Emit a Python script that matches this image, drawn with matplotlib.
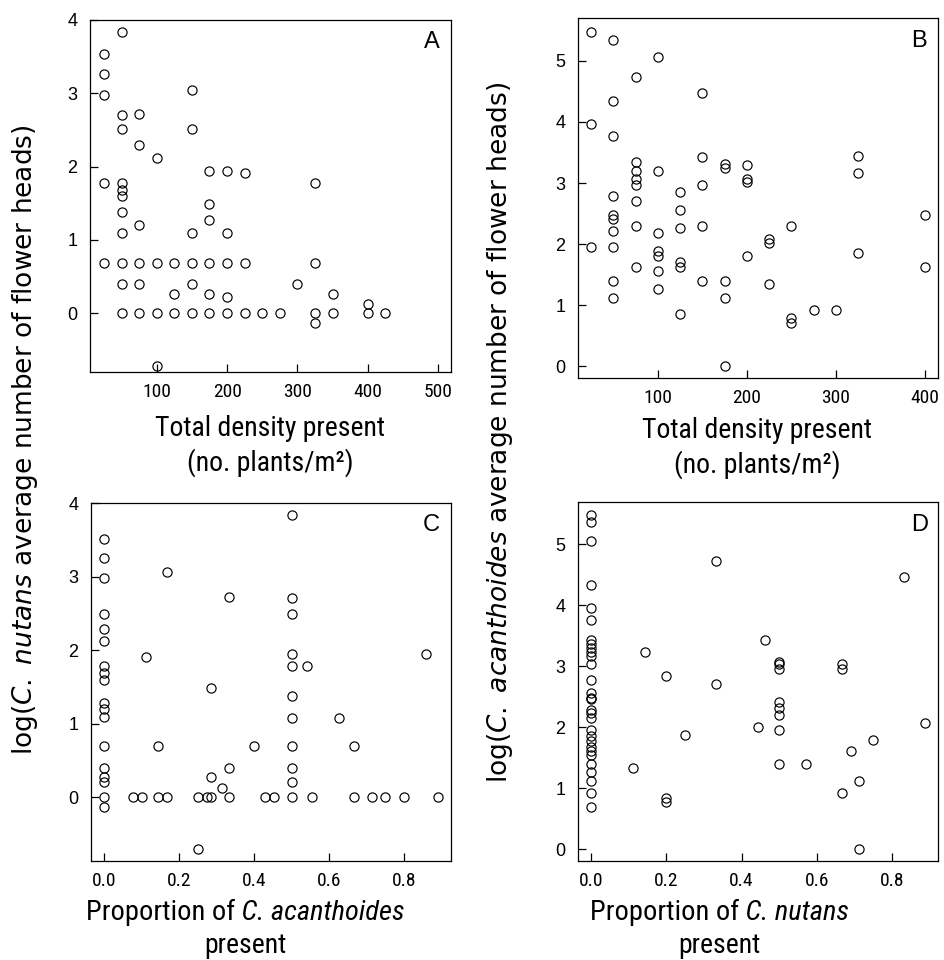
"""Four-panel scatter of thistle flower-head production.

  A, B  - log flower heads vs total density (C. nutans, C. acanthoides)
  C, D  - log flower heads vs proportion of the other species present
"""

import matplotlib

matplotlib.use("Agg")  # headless
import matplotlib.pyplot as plt  # noqa: E402
from matplotlib import font_manager as fm  # noqa: E402
from matplotlib.offsetbox import AnchoredOffsetbox, HPacker, TextArea  # noqa: E402

SANS = ["Liberation Sans", "DejaVu Sans"]
WIDE = ["DejaVu Sans"]

# the x axis text of the original is a condensed grotesque; take whatever narrow face exists
_names = {f.name for f in fm.fontManager.ttflist}
_narrow = [n for n in ("Liberation Sans Narrow", "Roboto Condensed", "DejaVu Sans Condensed",
                       "Open Sans Condensed") if n in _names]
if _narrow:
    NARROW = dict(family=[_narrow[0], "DejaVu Sans"])
else:
    NARROW = dict(family=["Roboto", "DejaVu Sans"], stretch="condensed")

plt.rcParams.update(
    {
        "font.family": SANS,
        "axes.linewidth": 0.9,
        "xtick.direction": "in",
        "ytick.direction": "in",
        "xtick.major.size": 6,
        "ytick.major.size": 6,
        "xtick.major.width": 0.9,
        "ytick.major.width": 0.9,
        "xtick.major.pad": 8,
        "ytick.major.pad": 9,
    }
)

# --- data -------------------------------------------------------------------

# A: C. nutans, total density (plants/m2) vs log(mean flower heads)
a_density = [
    25, 25, 25, 25, 25,
    50, 50, 50, 50, 50, 50, 50, 50, 50, 50, 50,
    75, 75, 75, 75, 75, 75,
    100, 100, 100, 100,
    125, 125, 125,
    150, 150, 150, 150, 150, 150,
    175, 175, 175, 175, 175, 175,
    200, 200, 200, 200, 200,
    225, 225, 225,
    250, 275, 300,
    325, 325, 325, 325,
    350, 350,
    400, 400,
    425,
]
a_heads = [
    3.53, 3.26, 2.98, 1.78, 0.69,
    3.84, 2.70, 2.51, 1.78, 1.68, 1.60, 1.38, 1.09, 0.69, 0.40, 0.00,
    2.72, 2.29, 1.20, 0.69, 0.40, 0.00,
    2.12, 0.69, 0.00, -0.72,
    0.69, 0.27, 0.00,
    3.05, 2.51, 1.09, 0.69, 0.40, 0.00,
    1.94, 1.49, 1.27, 0.69, 0.27, 0.00,
    1.94, 1.09, 0.69, 0.22, 0.00,
    1.91, 0.69, 0.00,
    0.00, 0.00, 0.40,
    1.78, 0.69, 0.00, -0.13,
    0.27, 0.00,
    0.13, 0.00,
    0.00,
]

# B: C. acanthoides, total density vs log(mean flower heads)
b_density = [
    25, 25, 25,
    50, 50, 50, 50, 50, 50, 50, 50, 50, 50,
    75, 75, 75, 75, 75, 75, 75, 75,
    100, 100, 100, 100, 100, 100, 100,
    125, 125, 125, 125, 125, 125,
    150, 150, 150, 150, 150,
    175, 175, 175, 175, 175,
    200, 200, 200, 200,
    225, 225, 225,
    250, 250, 250,
    275, 300,
    325, 325, 325,
    400, 400,
]
b_heads = [
    5.48, 3.96, 1.95,
    5.34, 4.34, 3.77, 2.79, 2.47, 2.41, 2.21, 1.95, 1.40, 1.12,
    4.73, 3.35, 3.20, 3.06, 2.96, 2.71, 2.30, 1.62,
    5.06, 3.20, 2.18, 1.89, 1.81, 1.56, 1.27,
    2.85, 2.56, 2.26, 1.71, 1.62, 0.85,
    4.47, 3.43, 2.96, 2.30, 1.40,
    3.31, 3.24, 1.40, 1.12, 0.00,
    3.29, 3.06, 3.01, 1.80,
    2.09, 2.02, 1.34,
    2.30, 0.78, 0.70,
    0.92, 0.92,
    3.44, 3.16, 1.86,
    2.48, 1.63,
]

# C: C. nutans vs proportion of C. acanthoides present
c_prop = [
    0, 0, 0, 0, 0, 0, 0, 0, 0, 0, 0, 0, 0, 0, 0, 0, 0, 0,
    0.078, 0.100, 0.111, 0.143, 0.143, 0.167, 0.167,
    0.250, 0.250, 0.273, 0.286, 0.286, 0.286, 0.314,
    0.333, 0.333, 0.333, 0.400, 0.430, 0.454,
    0.5, 0.5, 0.5, 0.5, 0.5, 0.5, 0.5, 0.5, 0.5, 0.5, 0.5,
    0.541, 0.554, 0.625, 0.667, 0.667, 0.714, 0.750, 0.800, 0.857, 0.889,
]
c_heads = [
    3.52, 3.25, 2.98, 2.50, 2.29, 2.13, 1.79, 1.69, 1.60,
    1.28, 1.20, 1.09, 0.69, 0.40, 0.28, 0.21, 0.00, -0.13,
    0.00, 0.00, 1.91, 0.69, 0.00, 3.06, 0.00,
    0.00, -0.71, 0.00, 1.49, 0.27, 0.00, 0.13,
    2.73, 0.40, 0.00, 0.69, 0.00, 0.00,
    3.84, 2.71, 2.50, 1.95, 1.78, 1.38, 1.08, 0.69, 0.40, 0.21, 0.00,
    1.78, 0.00, 1.08, 0.69, 0.00, 0.00, 0.00, 0.00, 1.95, 0.00,
]

# D: C. acanthoides vs proportion of C. nutans present
d_prop = [
    0, 0, 0, 0, 0, 0, 0, 0, 0, 0, 0, 0, 0, 0, 0,
    0, 0, 0, 0, 0, 0, 0, 0, 0, 0, 0, 0, 0, 0, 0,
    0.111, 0.143, 0.200, 0.200, 0.200, 0.250, 0.333, 0.333,
    0.444, 0.462,
    0.5, 0.5, 0.5, 0.5, 0.5, 0.5, 0.5, 0.5,
    0.571, 0.667, 0.667, 0.667, 0.692, 0.714, 0.714, 0.750, 0.833, 0.889,
]
d_heads = [
    5.48, 5.36, 5.05, 4.33, 3.96, 3.76, 3.44, 3.37, 3.30, 3.24,
    3.17, 3.04, 2.78, 2.57, 2.49, 2.46, 2.28, 2.24, 2.16, 1.96,
    1.86, 1.78, 1.68, 1.62, 1.55, 1.40, 1.27, 1.12, 0.92, 0.70,
    1.34, 3.24, 2.85, 0.85, 0.78, 1.88, 4.73, 2.71,
    2.01, 3.44,
    3.08, 3.04, 2.96, 2.41, 2.31, 2.21, 1.96, 1.40,
    1.40, 3.04, 2.96, 0.92, 1.62, 1.12, 0.00, 1.79, 4.47, 2.08,
]

density_ticks = [100, 200, 300, 400, 500]
prop_ticks = [0.0, 0.2, 0.4, 0.6, 0.8]


def _panel(fig, rect, x, y, letter, xlim, ylim, xticks, yticks, xfmt=None):
    ax = fig.add_axes(rect)
    ax.plot(x, y, ls="none", marker="o", ms=6.6, mfc="none", mec="black", mew=0.85)
    ax.set_xlim(*xlim)
    ax.set_ylim(*ylim)
    ax.set_xticks(xticks)
    ax.set_yticks(yticks)
    if xfmt:
        ax.set_xticklabels([xfmt.format(v) for v in xticks])
    for lab in ax.get_xticklabels():
        lab.update(NARROW)
        lab.set_fontsize(14)
    for lab in ax.get_yticklabels():
        lab.set_family(SANS)
        lab.set_fontsize(13)
    ax.text(0.947, 0.937, letter, transform=ax.transAxes, ha="center", va="center",
            fontsize=17, family=SANS)
    return ax


def _mixed_line(fig, x, y, parts, size=20.5):
    boxes = [TextArea(s, textprops=dict(NARROW, fontsize=size, style=st)) for s, st in parts]
    pack = HPacker(children=boxes, align="baseline", pad=0, sep=0)
    box = AnchoredOffsetbox(loc="center", child=pack, pad=0, borderpad=0, frameon=False,
                            bbox_to_anchor=(x, y), bbox_transform=fig.transFigure)
    fig.add_artist(box)


fig = plt.figure(figsize=(9.44, 9.60), dpi=100)

_panel(fig, [0.0953, 0.6125, 0.3821, 0.3667], a_density, a_heads, "A",
       (5, 518), (-0.8, 4.0), density_ticks, [0, 1, 2, 3, 4])
_panel(fig, [0.6120, 0.6066, 0.3820, 0.3744], b_density, b_heads, "B",
       (10, 415), (-0.19, 5.70), density_ticks[:4], [0, 1, 2, 3, 4, 5])
_panel(fig, [0.0961, 0.1031, 0.3813, 0.3733], c_prop, c_heads, "C",
       (-0.036, 0.924), (-0.87, 4.01), prop_ticks, [0, 1, 2, 3, 4], "{:.1f}")
_panel(fig, [0.6120, 0.1031, 0.3820, 0.3737], d_prop, d_heads, "D",
       (-0.036, 0.924), (-0.19, 5.69), prop_ticks, [0, 1, 2, 3, 4, 5], "{:.1f}")

# shared y labels, one per column
fig.text(0.0265, 0.542, r"log($\mathit{C.\ nutans}$ average number of flower heads)",
         rotation=90, ha="center", va="center", fontsize=19, family=WIDE)
fig.text(0.5297, 0.550, r"log($\mathit{C.\ acanthoides}$ average number of flower heads)",
         rotation=90, ha="center", va="center", fontsize=19, family=WIDE)

# x labels
for xc, yc in [(0.286, 0.554), (0.802, 0.552)]:
    fig.text(xc, yc, "Total density present", ha="center", va="center",
             fontsize=20, **NARROW)
    fig.text(xc, yc - 0.036, "(no. plants/m²)", ha="center", va="center",
             fontsize=20, **NARROW)

_mixed_line(fig, 0.260, 0.049, [("Proportion of", "normal"), (" C. acanthoides", "italic")])
fig.text(0.260, 0.015, "present", ha="center", va="center", fontsize=20, **NARROW)
_mixed_line(fig, 0.762, 0.049, [("Proportion of", "normal"), (" C. nutans", "italic")])
fig.text(0.762, 0.015, "present", ha="center", va="center", fontsize=20, **NARROW)

fig.savefig("out.png", dpi=100)
